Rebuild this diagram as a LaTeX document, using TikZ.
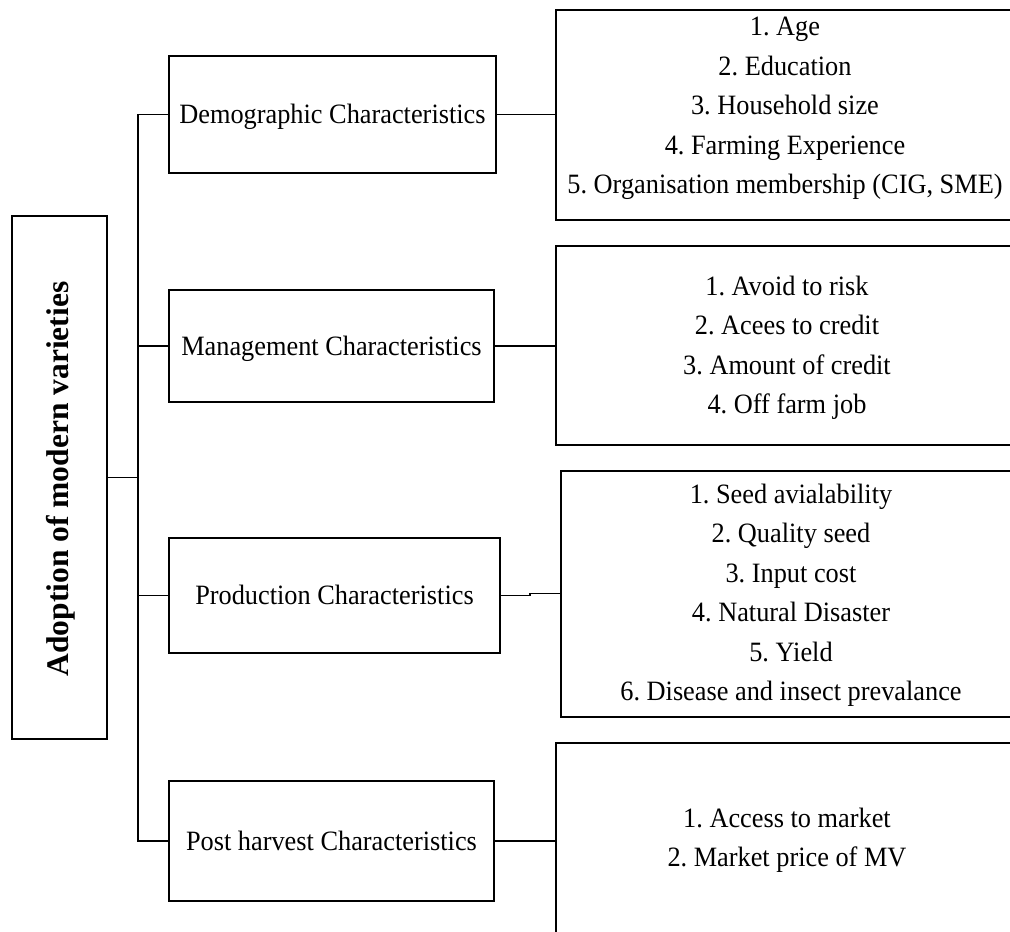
\documentclass[tikz,border=0pt]{standalone}
\usepackage{fontspec}
\setmainfont{Liberation Serif}
\newfontfamily\cfont{Liberation Serif}[FakeStretch=0.94]
\frenchspacing
\begin{document}
\begin{tikzpicture}[x=1pt,y=-1pt,
  box/.style={draw, line width=1.9pt, rectangle, inner sep=0pt},
  lnk/.style={line width=1.9pt},
  mid/.style={box, font=\cfont\fontsize{28}{39.5}\selectfont, text height=18.5pt, text depth=0pt},
  list/.style={font=\cfont\fontsize{28}{39.5}\selectfont, align=center, inner sep=0pt, text depth=0pt, anchor=south}]
\useasboundingbox (0,0) rectangle (1010,932);
% left box
\node[box, minimum width=95pt, minimum height=523pt] (L) at (59.5,477.5) {};
\node[rotate=90, inner sep=0pt, text height=20.8pt, text depth=0pt, font=\fontsize{31.5}{36}\selectfont\bfseries] (Lt) at (58,479) {Adoption of modern varieties};
% middle boxes
\node[mid, minimum width=327pt, minimum height=117pt] (B1) at (332.5,114.5) {Demographic Characteristics};
\node[mid, minimum width=325pt, minimum height=112pt] (B2) at (331.5,346) {Management Characteristics};
\node[mid, minimum width=331pt, minimum height=115pt] (B3) at (334.5,595.5) {Production Characteristics};
\node[mid, minimum width=325pt, minimum height=120pt] (B4) at (331.5,841) {Post harvest Characteristics};
% right boxes
\node[box, minimum width=456pt, minimum height=210pt] (R1) at (784,115) {};
\node[box, minimum width=456pt, minimum height=199pt] (R2) at (784,345.5) {};
\node[box, minimum width=451pt, minimum height=246pt] (R3) at (786.5,594) {};
\node[box, minimum width=456pt, minimum height=220pt] (R4) at (784,853) {};
% lists
\node[list] (T1) at (785,194) {1. Age\\2. Education\\3. Household size\\4. Farming Experience\\5. Organisation membership (CIG, SME)};
\node[list] (T2) at (787,414) {1. Avoid to risk\\2. Acees to credit\\3. Amount of credit\\4. Off farm job};
\node[list] (T3) at (791,701) {1. Seed avialability\\2. Quality seed\\3. Input cost\\4. Natural Disaster\\5. Yield\\6. Disease and insect prevalance};
\node[list] (T4) at (787,867) {1. Access to market\\2. Market price of MV};
% connectors
\coordinate (tr) at (138,478);
\draw[lnk] (L.east) -- (L.east -| tr);
\draw[lnk] (B1.west) -| (B4.west -| tr) -- (B4.west);
\draw[lnk] (B2.west) -- (B2.west -| tr);
\draw[lnk] (B3.west) -- (B3.west -| tr);
\draw[lnk] (B1.east) -- (B1.east -| R1.west);
\draw[lnk] (B2.east) -- (B2.east -| R2.west);
\coordinate (j1) at (530,595.5);
\coordinate (j2) at (530,593.5);
\draw[lnk] (B3.east) -- (j1) -- (j2) -- (j2 -| R3.west);
\draw[lnk] (B4.east) -- (B4.east -| R4.west);
\end{tikzpicture}
\end{document}
